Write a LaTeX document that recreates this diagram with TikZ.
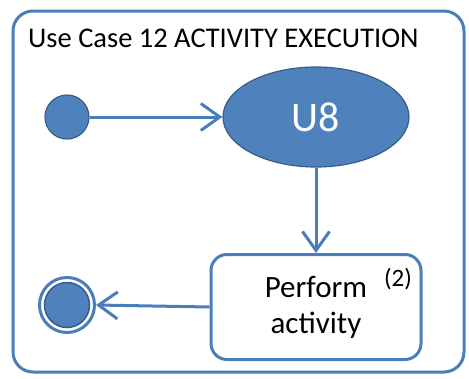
\documentclass[tikz,border=0pt]{standalone}
\usepackage{fontspec}
\setmainfont{Carlito}
\usetikzlibrary{arrows.meta,shapes.geometric}
\definecolor{ofblue}{HTML}{4F81BD}
\definecolor{ofline}{HTML}{4A7EBB}
\definecolor{ofdark}{HTML}{385D8A}
\tikzset{
  conn/.style={draw=ofline, line width=3pt, -{Straight Barb[length=19pt,width=27pt,line width=3pt]}},
  frame/.style={draw=ofline, line width=3pt, rounded corners=20pt},
  actbox/.style={draw=ofline, line width=3pt, rounded corners=16pt, fill=white, minimum width=210pt, minimum height=105pt, align=center, font=\fontsize{31}{36}\selectfont, inner sep=0pt},
}
\begin{document}
\begin{tikzpicture}[x=1pt,y=-1pt]
\useasboundingbox (0,0) rectangle (469,378);
\draw[frame] (13,11) rectangle (464,372);
\node[anchor=base west, font=\fontsize{28.5}{32}\selectfont, inner sep=0pt] (title) at (28,47) {Use Case 12 ACTIVITY EXECUTION};
\node[circle, fill=ofblue, draw=ofdark, line width=1.2pt, minimum size=44pt, inner sep=0pt] (start) at (67,117) {};
\node[ellipse, fill=ofblue, draw=ofdark, line width=1.2pt, minimum width=186pt, minimum height=100pt, inner sep=0pt, text=white, font=\fontsize{42}{48}\selectfont] (u8) at (316,117) {U8};
\node[actbox] (act) at (316,307) {Perform\\activity};
\node[font=\fontsize{25}{28}\selectfont, inner sep=0pt] (num) at (398,279) {(2)};
\node[circle, draw=ofline, line width=3pt, fill=white, minimum size=55pt, inner sep=0pt] (endo) at (67,305) {};
\node[circle, fill=ofblue, draw=ofdark, line width=1.5pt, minimum size=45pt, inner sep=0pt] (endi) at (67,305) {};
\draw[conn] (start.east) -- (u8.west);
\draw[conn] (u8.south) -- (act.north);
\draw[conn] (act.west) -- (endo.east);
\end{tikzpicture}
\end{document}
